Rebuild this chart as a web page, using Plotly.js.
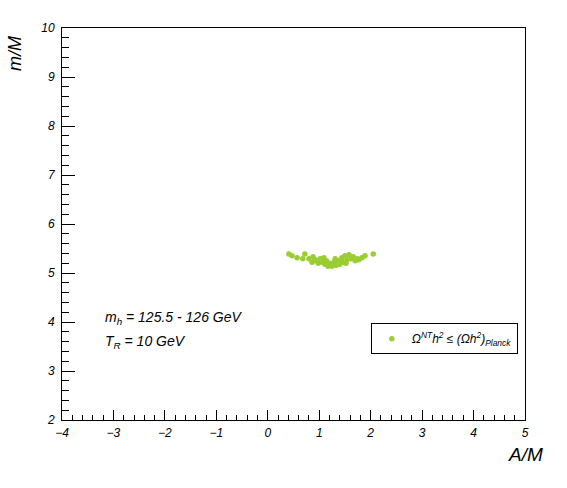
<!DOCTYPE html>
<html>
<head>
<meta charset="utf-8">
<script src="https://cdn.plot.ly/plotly-3.0.1.min.js"></script>
<style>
  html, body { margin: 0; padding: 0; background: #fff; }
  #chart { width: 567px; height: 488px; }
</style>
</head>
<body>
<div id="chart"></div>
<script>
// scan points passing the relic density bound
var a_over_m = [0.41, 0.47, 0.57, 0.68, 0.72, 0.80, 0.86, 0.88, 0.92, 0.98, 1.02, 1.06, 1.09, 1.11,
                1.17, 1.21, 1.25, 1.29, 1.33, 1.37, 1.40, 1.44, 1.46, 1.50, 1.54, 1.58, 1.62, 1.66,
                1.70, 1.74, 1.77, 1.83, 1.89, 2.05, 1.14, 1.31, 1.52, 0.95];
var m_over_m = [5.39, 5.35, 5.31, 5.29, 5.39, 5.29, 5.22, 5.33, 5.27, 5.20, 5.29, 5.22, 5.31, 5.18,
                5.14, 5.20, 5.14, 5.22, 5.16, 5.25, 5.18, 5.31, 5.22, 5.35, 5.27, 5.37, 5.29, 5.33,
                5.25, 5.29, 5.27, 5.31, 5.35, 5.39, 5.25, 5.29, 5.20, 5.25];

var series_name = 'Ω<sup>NT</sup>h<sup>2</sup> ≤ (Ωh<sup>2</sup>)<sub>Planck</sub>';
var note_lines = ['m<sub>h</sub> = 125.5 - 126 GeV', 'T<sub>R</sub> = 10 GeV'];

var fontFam = '"Liberation Sans", Arial, sans-serif';

var traces = [{
  x: a_over_m,
  y: m_over_m,
  mode: 'markers',
  type: 'scatter',
  name: series_name,
  marker: { color: '#9acd32', size: 5.5 },
  showlegend: true
}];

var axisCommon = {
  showgrid: false,
  zeroline: false,
  showline: true,
  linecolor: 'black',
  linewidth: 1,
  mirror: true,
  ticks: 'inside',
  tickcolor: 'black',
  tickwidth: 1,
  dtick: 1,
  tickfont: { family: fontFam, size: 12, color: 'black', style: 'italic' }
};

var layout = {
  width: 567,
  height: 488,
  paper_bgcolor: 'white',
  plot_bgcolor: 'white',
  margin: { l: 62, r: 42, t: 28, b: 68 },
  font: { family: fontFam, color: 'black' },
  xaxis: Object.assign({}, axisCommon, {
    range: [-4, 5],
    ticklen: 10,
    ticklabelstandoff: 2,
    minor: { dtick: 0.2, ticks: 'inside', ticklen: 5, tickcolor: 'black' }
  }),
  yaxis: Object.assign({}, axisCommon, {
    range: [2, 10],
    ticklen: 13,
    ticklabelstandoff: 4,
    minor: { dtick: 0.2, ticks: 'inside', ticklen: 7, tickcolor: 'black' }
  }),
  showlegend: true,
  legend: {
    x: 0.667, y: 0.247,
    xanchor: 'left', yanchor: 'top',
    bgcolor: 'white',
    bordercolor: 'black',
    borderwidth: 1,
    itemwidth: 30,
    font: { family: fontFam, size: 12, color: 'black', style: 'italic' }
  },
  annotations: [
    { text: note_lines[0], xref: 'paper', yref: 'paper', x: 0.088, y: 0.26,
      xanchor: 'left', yanchor: 'middle', showarrow: false,
      font: { family: fontFam, size: 14, style: 'italic' } },
    { text: note_lines[1], xref: 'paper', yref: 'paper', x: 0.088, y: 0.198,
      xanchor: 'left', yanchor: 'middle', showarrow: false,
      font: { family: fontFam, size: 14, style: 'italic' } },
    { text: 'A/M', xref: 'paper', yref: 'paper', x: 1.043, y: -0.055,
      xanchor: 'right', yanchor: 'top', showarrow: false,
      font: { family: fontFam, size: 19, style: 'italic' } },
    { text: 'm/M', xref: 'paper', yref: 'paper', x: -0.1, y: 0.985,
      xanchor: 'center', yanchor: 'top', textangle: -90, showarrow: false,
      font: { family: fontFam, size: 18, style: 'italic' } }
  ]
};

Plotly.newPlot('chart', traces, layout, { displayModeBar: false, staticPlot: true });
</script>
</body>
</html>
